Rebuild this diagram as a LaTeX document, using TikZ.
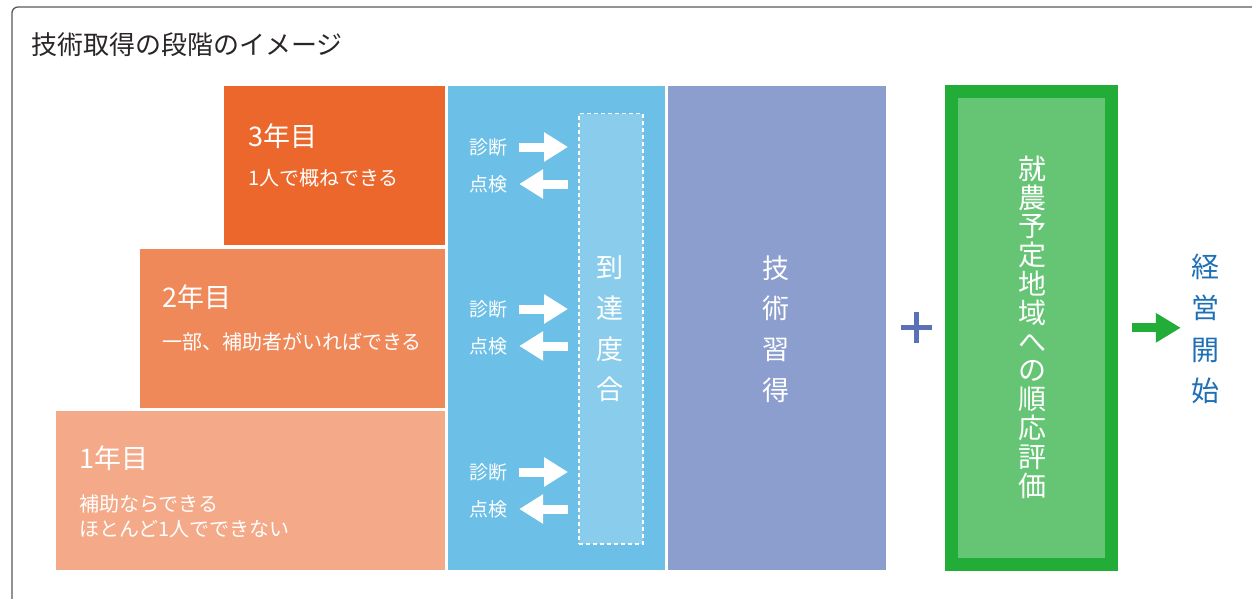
\documentclass[tikz,border=0pt]{standalone}
\usepackage{fontspec}
\setmainfont{Noto Sans CJK JP}
\usetikzlibrary{arrows.meta}
\definecolor{framec}{HTML}{5A5757}
\definecolor{titlec}{HTML}{2B2626}
\definecolor{ythree}{HTML}{EC672B}
\definecolor{ytwo}{HTML}{F0895A}
\definecolor{yone}{HTML}{F4A988}
\definecolor{bluec}{HTML}{6CBFE6}
\definecolor{dashc}{HTML}{8ACCEB}
\definecolor{purplec}{HTML}{8B9ECE}
\definecolor{gout}{HTML}{22AC38}
\definecolor{gin}{HTML}{66C575}
\definecolor{plusc}{HTML}{5A72B5}
\definecolor{jblue}{HTML}{1D6FB6}
\begin{document}
\begin{tikzpicture}[x=1pt,y=-1pt,
  box/.style={draw=white, line width=1pt, inner sep=0pt, anchor=north west},
  lab/.style={text=white, inner sep=0pt, anchor=west},
  bigf/.style={font=\fontsize{27}{30}\selectfont},
  smallf/.style={font=\fontsize{20}{25}\selectfont},
  wl/.style={text=white, inner sep=0pt, font=\fontsize{19}{22}\selectfont},
  vt/.style={text=white, inner sep=0pt, align=center},
  barrow/.style={draw=white, line width=9pt, -{Triangle[length=24pt,width=28pt]}},
  garrow/.style={draw=gout, line width=9pt, -{Triangle[length=25pt,width=28pt]}}
]
\useasboundingbox (0,0) rectangle (1252,599);
\clip (0,0) rectangle (1252,599);
\draw[framec, line width=1.3pt, rounded corners=6pt] (12,7) rectangle (1300,650);
\node[anchor=west, inner sep=0pt, text=titlec, font=\fontsize{26}{30}\selectfont] (title) at (31,45) {技術取得の段階のイメージ};

% year boxes
\node[box, fill=ythree, minimum width=222, minimum height=160] (y3) at (223,85) {};
\node[box, fill=ytwo, minimum width=306, minimum height=160] (y2) at (139,248) {};
\node[box, fill=yone, minimum width=390, minimum height=160] (y1) at (55,410) {};
\node[box, fill=bluec, minimum width=218, minimum height=485] (blue) at (447,85) {};
\node[box, fill=purplec, minimum width=219, minimum height=485] (purple) at (667,85) {};
\node[box, line width=1.5pt, fill=dashc, dashed, dash pattern=on 4pt off 3pt, minimum width=64, minimum height=430] (dash) at (578,113) {};

% year texts
\node[lab, bigf] (t3) at (248,136) {3年目};
\node[lab, smallf] (s3) at (248,178) {1人で概ねできる};
\node[lab, bigf] (t2) at (162,297) {2年目};
\node[lab, smallf] (s2) at (162,342) {一部、補助者がいればできる};
\node[lab, bigf] (t1) at (79,458) {1年目};
\node[lab, smallf, align=left] (s1) at (79,516) {補助ならできる\\ほとんど1人でできない};

% diagnosis / check labels
\node[wl] (d3) at (488,147) {診断};
\node[wl] (k3) at (488,184) {点検};
\node[wl] (d2) at (488,309) {診断};
\node[wl] (k2) at (488,346) {点検};
\node[wl] (d1) at (488,472) {診断};
\node[wl] (k1) at (488,509) {点検};

\foreach \d/\k in {d3/k3,d2/k2,d1/k1}{
  \draw[barrow] ([xshift=12pt]\d.east) -- ([xshift=-10pt]dash.west |- \d.east);
  \draw[barrow] ([xshift=-10pt]dash.west |- \k.east) -- ([xshift=12pt]\k.east);
}

% vertical texts
\node[vt, font=\fontsize{27}{40.7}\selectfont] (rd) at (610,329) {到\\達\\度\\合};
\node[vt, font=\fontsize{27}{40.7}\selectfont] (gs) at (776,329) {技\\術\\習\\得};

% plus
\fill[plusc] (900.5,325.2) rectangle (932,330.2);
\fill[plusc] (913.5,312) rectangle (918.5,343);

% green box
\node[draw=gout, fill=gin, line width=13pt, minimum width=160, minimum height=473, inner sep=0pt] (green) at (1031.5,328) {};
\node[vt, font=\fontsize{28}{28.8}\selectfont] (gt) at (1032,327) {就\\農\\予\\定\\地\\域\\へ\\の\\順\\応\\評\\価};

% result
\node[inner sep=0pt, align=center, text=jblue, font=\fontsize{28}{41.3}\selectfont] (keiei) at (1205,329) {経\\営\\開\\始};
\draw[garrow] ([xshift=14pt]green.east |- 0,327.8) -- ([xshift=-10pt]keiei.west |- 0,327.8);
\end{tikzpicture}
\end{document}
